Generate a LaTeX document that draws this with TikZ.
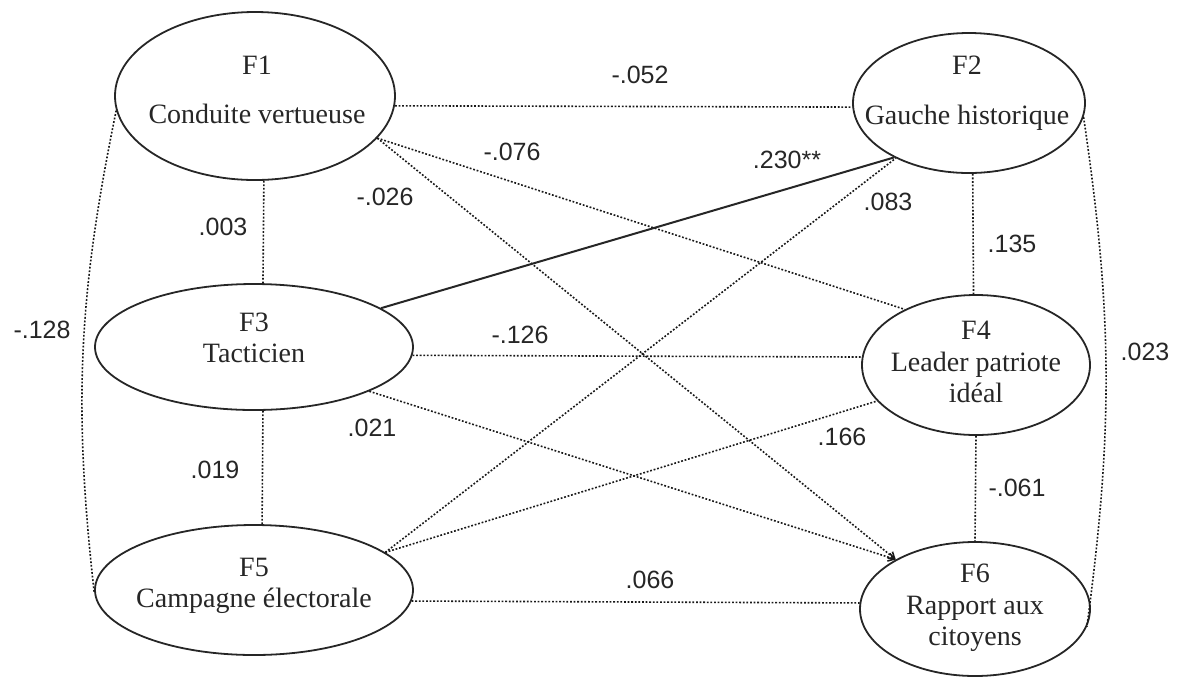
\documentclass[tikz,border=0pt]{standalone}
\usepackage{fontspec}
\setmainfont{Liberation Serif}
\newfontfamily\numfont{Liberation Sans}
\usetikzlibrary{positioning,shapes,arrows.meta}

\begin{document}
\begin{tikzpicture}[x=0.5pt,y=-0.5pt,>={Straight Barb[length=3pt,width=4pt]},font=\fontsize{14}{15.75}\selectfont]

    \tikzstyle{factor}=[draw=black!85,line width=0.9pt,ellipse,inner sep=0pt]
    \tikzstyle{ftext}=[align=center,text=black!85,inner sep=0pt]
    \tikzstyle{corr}=[draw=black!90,line width=0.8pt,dash pattern=on 0.9pt off 0.9pt]
    \tikzstyle{sig}=[draw=black!85,line width=1pt]
    \tikzstyle{coef}=[font=\numfont\fontsize{12.5}{14}\selectfont,text=black!85,inner sep=0pt]

    \useasboundingbox (0,0) rectangle (1180,677);

    \node[factor,minimum width=140pt,minimum height=84pt] (F1) at (255,96)  {};
    \node[factor,minimum width=116pt,minimum height=70pt] (F2) at (969,103) {};
    \node[factor,minimum width=159pt,minimum height=63pt] (F3) at (254,347) {};
    \node[factor,minimum width=114pt,minimum height=70pt] (F4) at (976,365) {};
    \node[factor,minimum width=159pt,minimum height=65pt] (F5) at (254,590) {};
    \node[factor,minimum width=115pt,minimum height=67pt] (F6) at (975,609) {};

    \node[ftext] (F1t) at (257,90)  {F1\\[9pt]Conduite vertueuse};
    \node[ftext] (F2t) at (967,93)  {F2\\[9pt]Gauche historique};
    \node[ftext] (F3t) at (254,338) {F3\\Tacticien};
    \node[ftext] (F4t) at (976,362) {F4\\Leader patriote\\idéal};
    \node[ftext] (F5t) at (254,586) {F5\\Campagne électorale};
    \node[ftext] (F6t) at (975,608) {F6\\Rapport aux\\citoyens};

    \path
    (F1.-4.6)   edge[corr]                  (F2.182)
    (F1.-84.6)  edge[corr]                  (F3.82)
    (F1.186)    edge[corr,bend right=9]     (F5.181)
    (F1.-19.1)  edge[corr]                  (F4.142.8)
                edge[corr,->]               (F6.148.6)

    (F2.-87)    edge[corr]                  (F4.92)
    (F2.-7.5)   edge[corr,bend left=8]      (F6.-9.4)

    (F3.17.6)   edge[sig]                   (F2.216)
    (F3.-3.6)   edge[corr]                  (F4.176.5)
    (F3.-21.1)  edge[corr,->]               (F6.148.6)
    (F3.-82)    edge[corr]                  (F5.83)

    (F4.south)  edge[corr]                  (F6.north)

    (F5.16.5)   edge[corr]                  (F2.217)
                edge[corr]                  (F4.200)
    (F5.-4.3)   edge[corr]                  (F6.177);

    \node[coef] (c12) at (640,75)   {-.052};
    \node[coef] (c14) at (512,152)  {-.076};
    \node[coef] (c32) at (787,160)  {.230**};
    \node[coef] (c16) at (385,197)  {-.026};
    \node[coef] (c13) at (223,227)  {.003};
    \node[coef] (c52) at (888,202)  {.083};
    \node[coef] (c24) at (1012,244) {.135};
    \node[coef] (c15) at (42,330)   {-.128};
    \node[coef] (c26) at (1145,352) {.023};
    \node[coef] (c34) at (520,335)  {-.126};
    \node[coef] (c36) at (372,428)  {.021};
    \node[coef] (c54) at (842,437)  {.166};
    \node[coef] (c35) at (215,470)  {.019};
    \node[coef] (c46) at (1017,488) {-.061};
    \node[coef] (c56) at (650,580)  {.066};

\end{tikzpicture}
\end{document}
